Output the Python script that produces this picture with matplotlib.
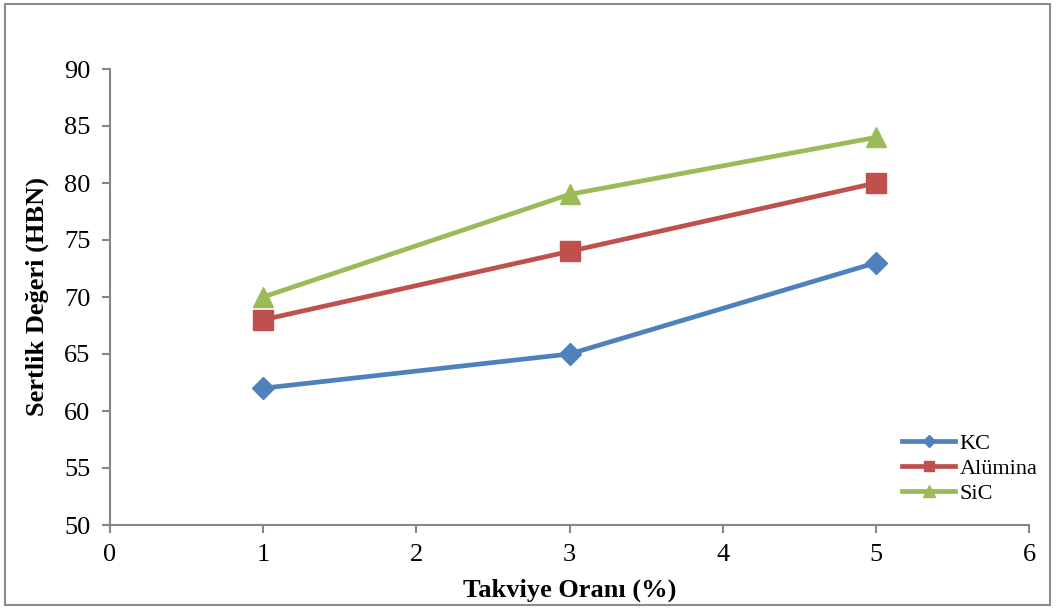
import matplotlib
matplotlib.use("Agg")
import matplotlib.pyplot as plt
from matplotlib.patches import Rectangle

x_vals = [1, 3, 5]
kc = [62, 65, 73]
alumina = [68, 74, 80]
sic = [70, 79, 84]
series_names = ["KC", "Alümina", "SiC"]
x_ticks = [0, 1, 2, 3, 4, 5, 6]
y_ticks = [50, 55, 60, 65, 70, 75, 80, 85, 90]

plt.rcParams['font.family'] = ['Liberation Serif', 'DejaVu Serif']

fig = plt.figure(figsize=(10.57, 6.09), dpi=100)
fig.patches.append(Rectangle((5/1057, 4/609), 1045/1057, 601/609, transform=fig.transFigure,
                             fill=False, edgecolor='#8c8c8c', linewidth=1.5))
ax = fig.add_axes([110/1057, 1 - 525/609, 919/1057, 456/609])

lw = 3.4
ax.plot(x_vals, kc, color='#4F81BD', lw=lw, marker='D', markersize=11.5, label=series_names[0])
ax.plot(x_vals, alumina, color='#C0504D', lw=lw, marker='s', markersize=14, label=series_names[1])
ax.plot(x_vals, sic, color='#9BBB59', lw=lw, marker='^', markersize=14.5, label=series_names[2])

ax.set_xlim(0, 6)
ax.set_ylim(50, 90)
ax.set_xticks(x_ticks)
ax.set_yticks(y_ticks)
ax.tick_params(axis='both', direction='out', length=6, width=1.5, color='#868686',
               labelsize=19, pad=8)
for s in ['top', 'right']:
    ax.spines[s].set_visible(False)
for s in ['left', 'bottom']:
    ax.spines[s].set_color('#868686')
    ax.spines[s].set_linewidth(1.5)

ax.set_xlabel("Takviye Oranı (%)", fontsize=19, fontweight='bold', labelpad=9)
ax.set_ylabel("Sertlik Değeri (HBN)", fontsize=19, fontweight='bold', labelpad=11)

leg = ax.legend(loc='lower right', bbox_to_anchor=(1.031, 0.002), frameon=False, fontsize=16,
                handlelength=2.4, handletextpad=0.2, labelspacing=0.2, markerscale=0.55)

fig.savefig("out.png", dpi=100)
